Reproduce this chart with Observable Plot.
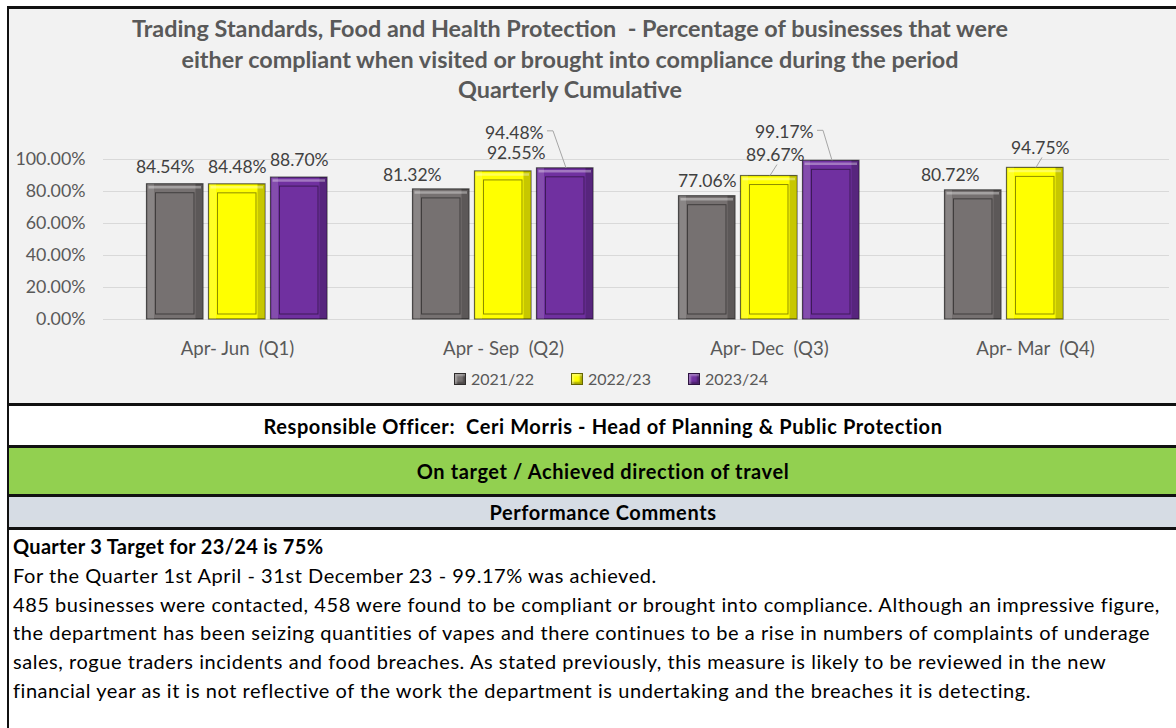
<!DOCTYPE html>
<html>
<head>
<meta charset="utf-8">
<script src="https://cdn.jsdelivr.net/npm/d3@7"></script>
<script src="https://cdn.jsdelivr.net/npm/@observablehq/plot@0.6"></script>
<style>
  html, body { margin: 0; padding: 0; background: #ffffff; width: 1176px; height: 728px; overflow: hidden; }
  body { position: relative; font-family: Lato, "Open Sans", sans-serif; }
  .box { position: absolute; box-sizing: border-box; border-left: 2.5px solid #111; border-top: 3px solid #111; }
  #chartBox { left: 7px; top: 6px; width: 1190px; height: 400px; background: #f2f2f2; }
  #title { position: absolute; left: 0; width: 1122px; top: 4px; text-align: center; color: #595959; font-weight: 700; font-size: 23.4px; line-height: 30.5px; white-space: pre; }
  #plot { position: absolute; left: 0.5px; top: 111px; }
  #plot svg text { white-space: pre; }
  #legend { position: absolute; top: 359px; left: 445px; display: flex; font-size: 16px; color: #595959; line-height: 22px; }
  #legend .item { width: 117px; display: flex; align-items: center; }
  #legend .sw { width: 10px; height: 10px; margin-right: 5px; border: 1px solid rgba(0,0,0,0.6); box-shadow: inset 2px 2px 2px rgba(255,255,255,0.35), inset -2px -2px 2px rgba(0,0,0,0.35); }
  .band { position: absolute; left: 7px; width: 1190px; text-align: center; font-weight: 700; color: #000; font-size: 20px; letter-spacing: 0.6px; white-space: pre; display: flex; align-items: center; justify-content: center; }
  #officer { top: 403px; height: 42px; background: #ffffff; }
  #status { top: 445px; height: 49px; background: #92d050; }
  #perf { top: 494px; height: 33px; background: #d6dce4; }
  #comments { position: absolute; left: 7px; top: 527px; width: 1190px; height: 210px; background: #fff; }
  #comments .lines { position: absolute; left: 4px; top: 2px; font-size: 20px; letter-spacing: 0.55px; line-height: 28.8px; color: #000; white-space: pre; }
  #comments .lines .b { font-weight: 700; letter-spacing: 0.3px; }
</style>
</head>
<body>
<div id="chartBox" class="box">
  <div id="title"></div>
  <div id="plot"></div>
  <div id="legend"></div>
</div>
<div id="officer" class="box band"></div>
<div id="status" class="box band"></div>
<div id="perf" class="box band"></div>
<div id="comments" class="box"><div class="lines"></div></div>

<script>
// ---- Data ----
const titleLines = [
  "Trading Standards, Food and Health Protection  - Percentage of businesses that were",
  "either compliant when visited or brought into compliance during the period",
  "Quarterly Cumulative"
];
const quarters = ["Apr- Jun  (Q1)", "Apr - Sep  (Q2)", "Apr- Dec  (Q3)", "Apr- Mar  (Q4)"];
const years = ["2021/22", "2022/23", "2023/24"];
const values2021 = [84.54, 81.32, 77.06, 80.72];
const values2022 = [84.48, 92.55, 89.67, 94.75];
const values2023 = [88.70, 94.48, 99.17, null];
const yTicks = [0, 20, 40, 60, 80, 100];
const officerText = "Responsible Officer:  Ceri Morris - Head of Planning & Public Protection";
const statusText = "On target / Achieved direction of travel";
const perfText = "Performance Comments";
const commentHeading = "Quarter 3 Target for 23/24 is 75%";
const commentLines = [
  "For the Quarter 1st April - 31st December 23 - 99.17% was achieved.",
  "485 businesses were contacted, 458 were found to be compliant or brought into compliance. Although an impressive figure,",
  "the department has been seizing quantities of vapes and there continues to be a rise in numbers of complaints of underage",
  "sales, rogue traders incidents and food breaches. As stated previously, this measure is likely to be reviewed in the new",
  "financial year as it is not reflective of the work the department is undertaking and the breaches it is detecting."
];

// ---- Styling / layout config ----
const colors = ["#767171", "#ffff00", "#7030a0"];
// label nudges (px) per [quarter][year]: [dx, dy from bar top]
const labelNudge = [
  [[-10, -17], [0, -17], [0, -17]],
  [[-29, -14], [13, -18], [-51, -35]],
  [[0, -15], [6, -21], [-47, -28]],
  [[-23, -15], [5, -20], null]
];
// leader lines: [quarterIndex, yearIndex, kind]
const leaders = [[1, 2, "side"], [2, 1, "below"], [2, 2, "side"], [3, 1, "below"]];

// ---- Build table ----
const seriesValues = [values2021, values2022, values2023];
const rows = [];
quarters.forEach((q, qi) => years.forEach((yr, yi) => {
  const v = seriesValues[yi][qi];
  if (v != null) rows.push({quarter: q, qi, year: yr, yi, value: v});
}));

// ---- HTML text ----
document.getElementById("title").textContent = titleLines.join("\n");
document.getElementById("officer").textContent = officerText;
document.getElementById("status").textContent = statusText;
document.getElementById("perf").textContent = perfText;
const lines = document.querySelector("#comments .lines");
lines.innerHTML = "";
const hd = document.createElement("div"); hd.className = "b"; hd.textContent = commentHeading; lines.appendChild(hd);
commentLines.forEach(t => { const d = document.createElement("div"); d.textContent = t; lines.appendChild(d); });

const legend = document.getElementById("legend");
years.forEach((yr, i) => {
  const it = document.createElement("div"); it.className = "item";
  const sw = document.createElement("span"); sw.className = "sw"; sw.style.background = colors[i];
  const tx = document.createElement("span"); tx.textContent = yr;
  it.appendChild(sw); it.appendChild(tx); legend.appendChild(it);
});

// ---- Plot ----
const W = 1166, H = 240, ML = 93, MR = 7, MT = 39, MB = 41;
const bw = (W - ML - MR) / quarters.length;   // band width for each quarter
const slotStart = 42.5, slotStep = 62, barW = 57;
const slotLeft = i => slotStart + i * slotStep;
const fmt = v => v.toFixed(2) + "%";

const marks = [Plot.ruleY(yTicks, {stroke: "#d9d9d9", strokeWidth: 1})];

years.forEach((yr, yi) => {
  const data = rows.filter(r => r.yi === yi);
  const iL = slotLeft(yi), iR = bw - slotLeft(yi) - barW;
  const fill = colors[yi];
  marks.push(
    Plot.barY(data, {x: "quarter", y: "value", fill, insetLeft: iL, insetRight: iR, stroke: "rgba(0,0,0,0.6)", strokeWidth: 1.2}),
    // bevel shading: right and left edges
    Plot.barY(data, {x: "quarter", y: "value", fill: "rgba(0,0,0,0.22)", insetLeft: iL + barW - 8, insetRight: iR + 1}),
    Plot.barY(data, {x: "quarter", y: "value", fill: "rgba(255,255,255,0.14)", insetLeft: iL + 1, insetRight: iR + barW - 8}),
    // top highlight of the bevel
    Plot.tickY(data, {x: "quarter", y: "value", insetLeft: iL + 2, insetRight: iR + 2, dy: 3, stroke: "rgba(255,255,255,0.35)", strokeWidth: 2.5}),
    // inner face
    Plot.barY(data, {x: "quarter", y: "value", fill, insetLeft: iL + 9, insetRight: iR + 9, insetTop: 9, insetBottom: 5, stroke: "rgba(0,0,0,0.45)", strokeWidth: 1})
  );
  data.forEach(d => {
    const n = labelNudge[d.qi][d.yi];
    marks.push(Plot.text([d], {
      x: "quarter", y: "value", text: r => fmt(r.value),
      dx: slotLeft(yi) + barW / 2 - bw / 2 + n[0], dy: n[1],
      fill: "#404040", fontSize: 17.5, fontFamily: "Lato, sans-serif"
    }));
  });
});

// leader lines drawn with the plot's own scales
marks.push((index, scales) => {
  const {x, y} = scales;
  const g = d3.create("svg:g").attr("fill", "none").attr("stroke", "#a6a6a6").attr("stroke-width", 1);
  leaders.forEach(([qi, yi, kind]) => {
    const v = seriesValues[yi][qi];
    const n = labelNudge[qi][yi];
    const barCx = x(quarters[qi]) + slotLeft(yi) + barW / 2;
    const barTop = y(v);
    const lx = barCx + n[0], ly = barTop + n[1];
    let pts;
    if (kind === "side") pts = [[lx + 33, ly - 2], [lx + 39, ly - 2], [barCx + 1, barTop]];
    else pts = [[lx + 2, ly + 10], [barCx + 1, barTop]];
    g.append("path").attr("d", d3.line()(pts));
  });
  return g.node();
});

const chart = Plot.plot({
  width: W, height: H,
  marginLeft: ML, marginRight: MR, marginTop: MT, marginBottom: MB,
  style: {background: "transparent", color: "#595959", fontFamily: "Lato, sans-serif", fontSize: "18.6px"},
  x: {domain: quarters, padding: 0, tickSize: 0, tickPadding: 22, label: null},
  y: {domain: [0, 100], ticks: yTicks, tickSize: 0, tickPadding: 18, tickFormat: d => d.toFixed(2) + "%", label: null},
  marks
});
chart.querySelectorAll('[aria-label="y-axis tick label"] text, [aria-label="y-axis"] text').forEach(t => t.setAttribute("font-size", "17.8"));
document.getElementById("plot").appendChild(chart);
</script>
</body>
</html>
